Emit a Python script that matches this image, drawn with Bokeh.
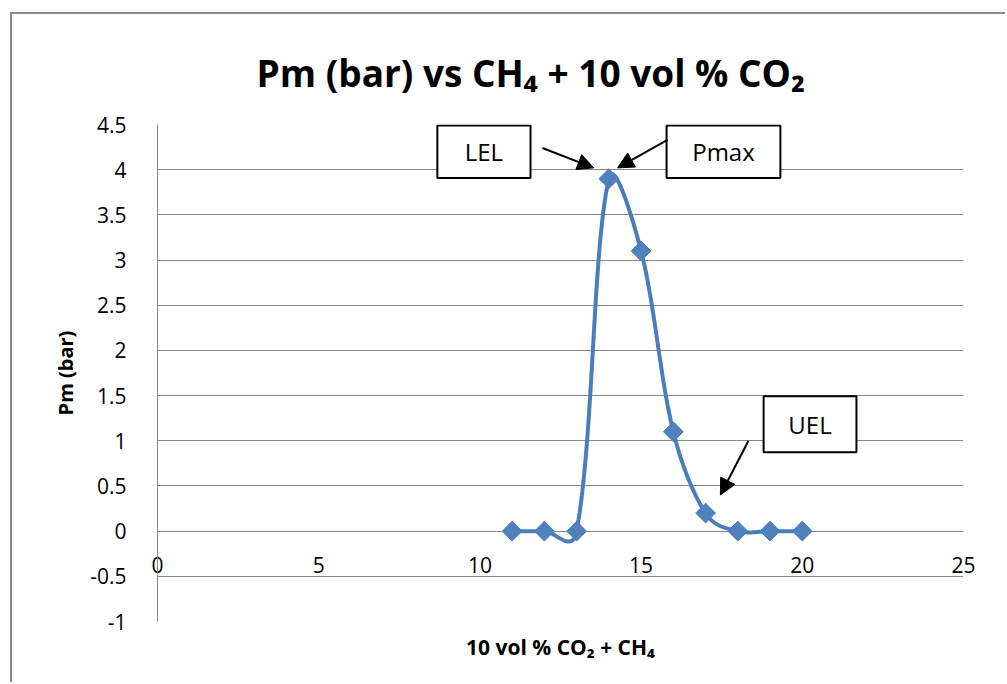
import numpy as np
from bokeh.plotting import figure
from bokeh.models import (FixedTicker, CustomJSTickFormatter, Label, BoxAnnotation,
                          Arrow, NormalHead, Range1d, Title)
from bokeh.embed import file_html
from bokeh.resources import INLINE

# ---- data ----
title_text = "Pm (bar) vs CH\u2084 + 10 vol % CO\u2082"
x_label = "10 vol % CO\u2082 + CH\u2084"
y_label = "Pm (bar)"
conc = [11, 12, 13, 14, 15, 16, 17, 18, 19, 20]
pm = [0, 0, 0, 3.9, 3.1, 1.1, 0.2, 0, 0, 0]
x_ticks = [0, 5, 10, 15, 20, 25]
y_ticks = [-1, -0.5, 0, 0.5, 1, 1.5, 2, 2.5, 3, 3.5, 4, 4.5]
callout_texts = ["LEL", "Pmax", "UEL"]

# ---- styles / annotation placement (data units) ----
FONT = "Open Sans"
BLUE_LINE = "#4a7ebb"
BLUE_FILL = "#4f81bd"
GRID = "#878787"
boxes = [  # left, right, bottom, top
    (8.68, 11.57, 3.907, 4.49),
    (15.79, 19.32, 3.907, 4.49),
    (18.80, 21.68, 0.874, 1.494),
]
arrows = [  # x_start, y_start, x_end, y_end
    (11.94, 4.24, 13.53, 4.02),
    (15.82, 4.33, 14.27, 4.02),
    (18.33, 1.00, 17.46, 0.40),
]


def excel_smooth(xs, ys, n=80):
    P = np.column_stack([xs, ys]).astype(float)
    m = len(P)
    out = [P[0]]
    t = np.linspace(0, 1, n)[1:, None]
    for i in range(m - 1):
        p0 = P[i - 1] if i > 0 else P[i]
        p1 = P[i]
        p2 = P[i + 1]
        p3 = P[i + 2] if i + 2 < m else P[i + 1]
        d01 = np.linalg.norm(p1 - p0)
        d12 = np.linalg.norm(p2 - p1)
        d23 = np.linalg.norm(p3 - p2)
        c1 = p1 + (p2 - p0) * (d12 / (d01 + d12)) / 3
        c2 = p2 - (p3 - p1) * (d12 / (d12 + d23)) / 3
        seg = (1 - t) ** 3 * p1 + 3 * (1 - t) ** 2 * t * c1 + 3 * (1 - t) * t ** 2 * c2 + t ** 3 * p2
        out.extend(seg)
    out = np.array(out)
    return out[:, 0], out[:, 1]


sx, sy = excel_smooth(conc, pm)

p = figure(width=995, height=670, x_range=Range1d(0, 25), y_range=Range1d(-1, 4.5),
           output_backend="svg", toolbar_location=None,
           min_border_left=145, min_border_right=44, min_border_top=110, min_border_bottom=63)
p.margin = (12, 0, 0, 10)
p.styles = {"border-left": "2px solid #8a8a8a", "border-top": "2px solid #8a8a8a"}
p.outline_line_color = None
p.background_fill_color = "white"
p.border_fill_color = "white"

p.add_layout(Title(text=title_text, align="left", offset=99, standoff=54,
                   text_font=FONT, text_font_style="bold", text_font_size="37px",
                   text_color="black"), "above")

p.xgrid.visible = False
p.ygrid.ticker = FixedTicker(ticks=y_ticks)
p.ygrid.grid_line_color = GRID
p.ygrid.grid_line_width = 1

fmt = CustomJSTickFormatter(code="return tick.toString();")

p.yaxis.ticker = FixedTicker(ticks=y_ticks)
p.yaxis.formatter = fmt
p.yaxis.axis_line_color = GRID
p.yaxis.major_tick_line_color = None
p.yaxis.minor_tick_line_color = None
p.yaxis.major_label_standoff = 25
p.yaxis.major_label_text_font = FONT
p.yaxis.major_label_text_font_size = "21px"
p.yaxis.major_label_text_color = "black"
p.yaxis.axis_label = y_label
p.yaxis.axis_label_text_font = FONT
p.yaxis.axis_label_text_font_style = "bold"
p.yaxis.axis_label_text_font_size = "20px"
p.yaxis.axis_label_text_color = "black"
p.yaxis.axis_label_standoff = 8

p.xaxis.ticker = FixedTicker(ticks=x_ticks)
p.xaxis.formatter = fmt
p.xaxis.axis_line_color = None
p.xaxis.major_tick_line_color = None
p.xaxis.minor_tick_line_color = None
p.xaxis.major_label_standoff = -71
p.xaxis.major_label_text_font = FONT
p.xaxis.major_label_text_font_size = "21px"
p.xaxis.major_label_text_color = "black"
p.xaxis.axis_label = x_label
p.xaxis.axis_label_text_font = FONT
p.xaxis.axis_label_text_font_style = "bold"
p.xaxis.axis_label_text_font_size = "21px"
p.xaxis.axis_label_text_color = "black"
p.xaxis.axis_label_standoff = 57

p.line(sx, sy, line_width=4, line_color=BLUE_LINE)
p.scatter(conc, pm, marker="square", size=14, angle=np.pi / 4,
          fill_color=BLUE_FILL, line_color=BLUE_LINE)

for (l, r, b, t), txt in zip(boxes, callout_texts):
    p.add_layout(BoxAnnotation(left=l, right=r, bottom=b, top=t, fill_color="white",
                               fill_alpha=1, line_color="black", line_width=2, line_alpha=1))
    p.add_layout(Label(x=(l + r) / 2, y=(b + t) / 2, text=txt, text_align="center",
                       text_baseline="middle", text_font=FONT, text_font_size="24px",
                       text_color="black"))

for xs0, ys0, xe, ye in arrows:
    p.add_layout(Arrow(end=NormalHead(size=16, fill_color="black", line_color="black"),
                       x_start=xs0, y_start=ys0, x_end=xe, y_end=ye,
                       line_color="black", line_width=2))

open("out.html", "w").write(file_html(p, INLINE))
